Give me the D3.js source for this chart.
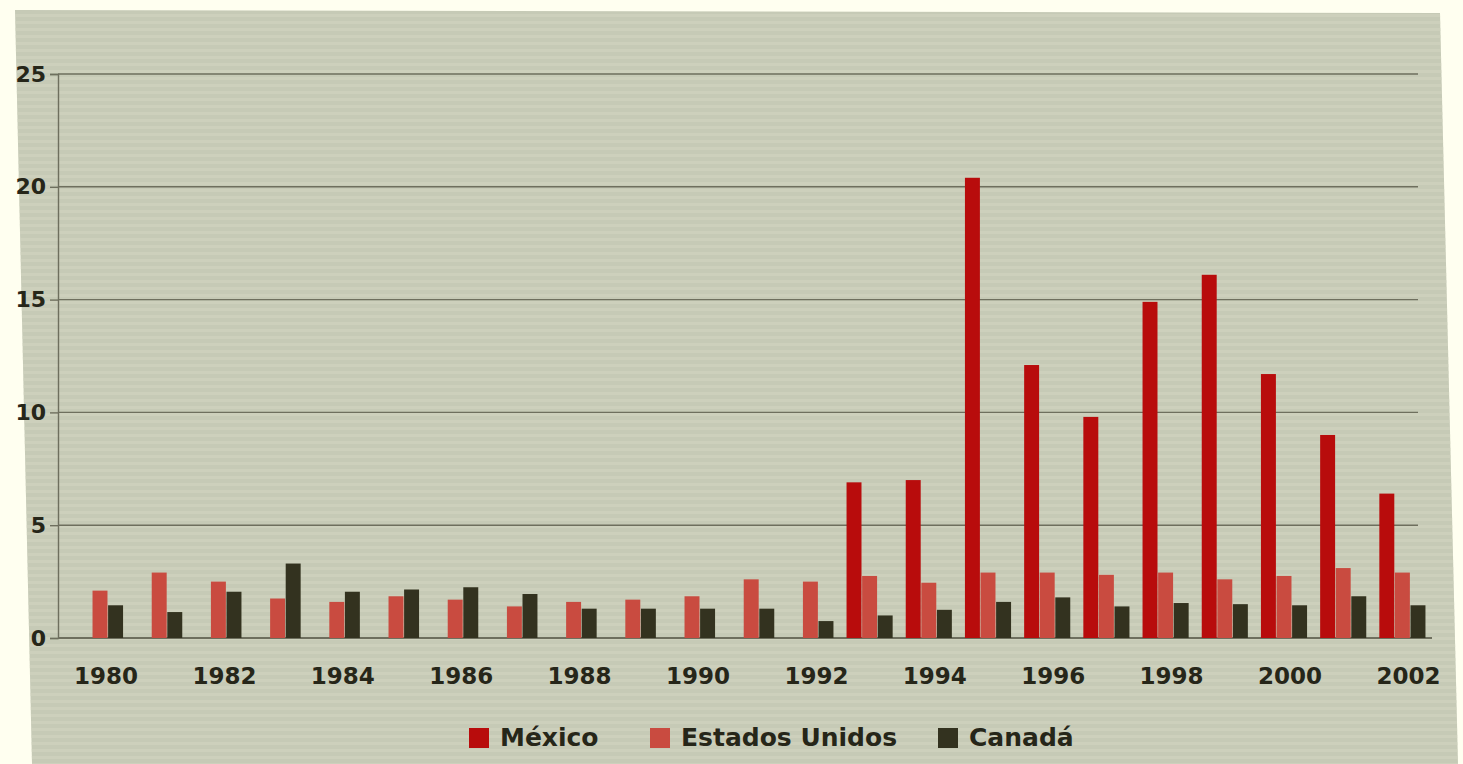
<!DOCTYPE html>
<html>
<head>
<meta charset="utf-8">
<script src="https://cdn.jsdelivr.net/npm/d3@7"></script>
<style>
  html, body { margin: 0; padding: 0; background: #fffff0; }
  svg { display: block; }
  text { font-family: "DejaVu Sans", sans-serif; font-weight: bold; fill: #262619; }
</style>
</head>
<body>
<svg id="chart" width="1463" height="764"></svg>
<script>
const years = [1980,1981,1982,1983,1984,1985,1986,1987,1988,1989,1990,1991,1992,1993,1994,1995,1996,1997,1998,1999,2000,2001,2002];
const mexico = [null,null,null,null,null,null,null,null,null,null,null,null,null,6.9,7.0,20.4,12.1,9.8,14.9,16.1,11.7,9.0,6.4];
const estadosUnidos = [2.1,2.9,2.5,1.75,1.6,1.85,1.7,1.4,1.6,1.7,1.85,2.6,2.5,2.75,2.45,2.9,2.9,2.8,2.9,2.6,2.75,3.1,2.9];
const canada = [1.45,1.15,2.05,3.3,2.05,2.15,2.25,1.95,1.3,1.3,1.3,1.3,0.75,1.0,1.25,1.6,1.8,1.4,1.55,1.5,1.45,1.85,1.45];
const seriesNames = ["México","Estados Unidos","Canadá"];
const seriesColors = ["#b80c0c","#c94b40","#33321f"];
const yTicks = [0,5,10,15,20,25];
const xTickYears = [1980,1982,1984,1986,1988,1990,1992,1994,1996,1998,2000,2002];

const seriesValues = [mexico, estadosUnidos, canada];
const svg = d3.select("#chart");

// paper background (slightly rotated scan)
svg.append("polygon")
  .attr("points", "15,10 1440,13 1458,764 32,764")
  .attr("fill", "#c6cab6");
// faint scan stripes
const defs = svg.append("defs");
const pat = defs.append("pattern").attr("id","stripes").attr("width",8).attr("height",7).attr("patternUnits","userSpaceOnUse");
pat.append("rect").attr("width",8).attr("height",3).attr("fill","#d2d4c0").attr("opacity",0.55);
svg.append("polygon")
  .attr("points", "15,10 1440,13 1458,764 32,764")
  .attr("fill", "url(#stripes)");

const y = d3.scaleLinear().domain([0,25]).range([638,74]);
const x0 = d3.scaleBand().domain(years).range([70.4,1432]).paddingInner(0.2).paddingOuter(0.1);
const x1 = d3.scaleBand().domain(seriesNames).range([0, x0.bandwidth()]).padding(0.04);

// gridlines
const grid = svg.append("g");
grid.selectAll("line").data(yTicks).join("line")
  .attr("x1", 58).attr("x2", d => d === 0 ? 1432 : 1418)
  .attr("y1", d => y(d)).attr("y2", d => y(d))
  .attr("stroke", "#6e6f5e").attr("stroke-width", d => d === 0 ? 2 : 1.4);

// y axis
const yAxis = d3.axisLeft(y).tickValues(yTicks).tickSize(8).tickPadding(4).tickFormat(d3.format("d"));
const ya = svg.append("g").attr("transform","translate(58,0)").call(yAxis);
ya.select(".domain").attr("stroke","#6e6f5e").attr("stroke-width",1.4);
ya.selectAll(".tick line").attr("stroke","#6e6f5e").attr("stroke-width",1.4);
ya.selectAll(".tick text").style("font-size","22px").attr("fill","#262619").attr("x",-12);

// bars
const groups = svg.append("g").selectAll("g").data(years).join("g")
  .attr("transform", d => `translate(${x0(d)},0)`);
groups.selectAll("rect")
  .data((yr, i) => seriesNames.map((s, k) => ({s, k, v: seriesValues[k][i]})).filter(d => d.v !== null))
  .join("rect")
  .attr("x", d => x1(d.s))
  .attr("width", x1.bandwidth())
  .attr("y", d => y(d.v))
  .attr("height", d => y(0) - y(d.v))
  .attr("fill", d => seriesColors[d.k]);

// x axis labels
const xAxis = d3.axisBottom(x0).tickValues(xTickYears).tickSize(0).tickPadding(0);
const xa = svg.append("g").attr("transform","translate(6,668)").call(xAxis);
xa.select(".domain").remove();
xa.selectAll(".tick text").style("font-size","23px").attr("fill","#262619").attr("dy","0.71em");

// legend
const legendX = [469, 650, 938];
const lg = svg.append("g");
seriesNames.forEach((s, k) => {
  lg.append("rect").attr("x", legendX[k]).attr("y", 728).attr("width", 20).attr("height", 20).attr("fill", seriesColors[k]);
  lg.append("text").attr("x", legendX[k] + 31).attr("y", 746).style("font-size","25px").text(s);
});
</script>
</body>
</html>
